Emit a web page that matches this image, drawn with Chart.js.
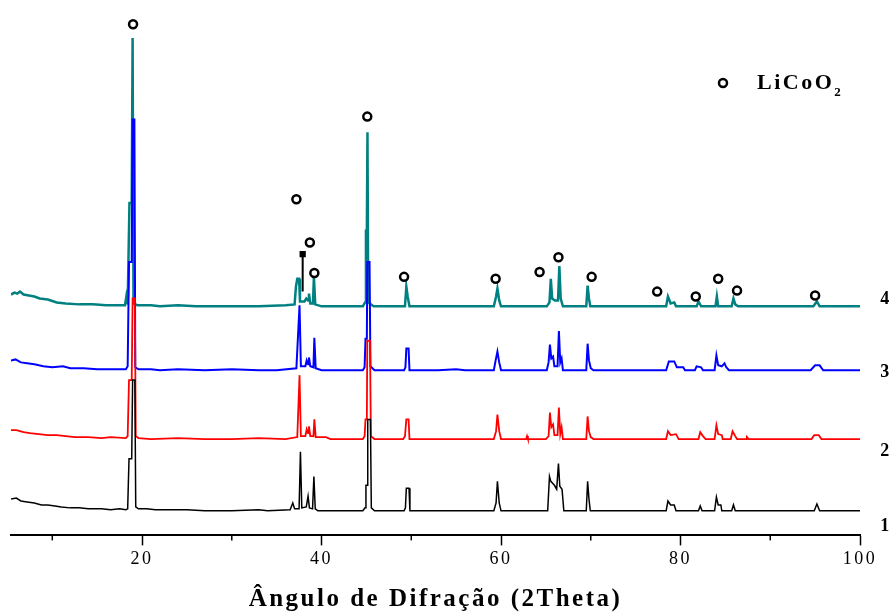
<!DOCTYPE html>
<html>
<head>
<meta charset="utf-8">
<script src="https://cdn.jsdelivr.net/npm/chart.js@4.4.1/dist/chart.umd.min.js"></script>
<style>
  body { margin: 0; background: #fff; }
</style>
</head>
<body>
<canvas id="xrd" width="896" height="612"></canvas>
<script>
// [2theta, intensity] pairs (arbitrary units)
const amostra1 = [
  [5.4,12],[6.0,13],[6.5,10],[7.2,9],[8.0,8],[8.8,6],[9.5,6],[10.3,5],[11.0,4],[12.0,3],[13.0,3],[14.0,2],[15.5,2],[16.5,1],[17.5,2],[18.2,1],[18.4,2],
  [18.55,53],[18.85,53],[18.95,133],[19.2,133],[19.3,4],[19.6,2],[20.5,2],[21.5,1],[23,1],[25,1],[27,0],[30,0],[33,1],[34,0],[36.5,1],[36.8,8],[37.0,2],[37.5,2],[37.65,60],[37.8,3],[38.3,4],[38.5,15],[38.65,3],[39.0,2],[39.15,35],[39.3,2],[39.6,0],
  [44.6,0],[44.85,3],[44.95,26],[45.1,26],[45.15,93],[45.45,93],[45.55,3],[45.9,0],
  [49.2,0],[49.35,3],[49.45,23],[49.75,23],[49.85,0],
  [53,0],[56,0],[59.2,0],[59.45,8],[59.6,30],[59.8,8],[60.0,0],
  [65.2,0],[65.4,35],[65.55,30],[65.75,28],[65.95,26],[66.2,22],[66.4,48],[66.55,25],[66.8,22],[67.0,0],
  [69.5,0],[69.65,30],[69.8,12],[69.95,0],
  [78.4,0],[78.6,10],[78.9,6],[79.3,6],[79.5,0],[82.0,0],[82.2,5],[82.4,0],[83.8,0],[84.0,14],[84.2,6],[84.5,6],[84.6,0],[85.7,0],[85.9,6],[86.1,0],[94.9,0],[95.2,7],[95.5,0],[100,0]
];
const amostra2 = [
  [5.4,9],[6,9],[6.8,7],[7.5,6],[8.5,5],[9.5,4],[10.5,4],[11.5,3],[12.5,2],[14,2],[15.5,1],[16.5,2],[18.2,1],[18.4,3],
  [18.55,60],[18.85,60],[18.95,143],[19.2,143],[19.3,3],[19.6,1],[21,0],[24,1],[27,0],[30,0],[33,1],[36,0],[37.3,2],[37.55,65],[37.7,3],[38.2,3],[38.35,10],[38.5,6],[38.6,13],[38.75,3],[39.1,3],[39.2,20],[39.35,2],[40.5,2],[41,0],
  [44.6,0],[44.8,3],[44.9,20],[45.05,20],[45.1,100],[45.4,100],[45.5,3],[45.9,0],
  [49.1,0],[49.3,3],[49.45,20],[49.7,20],[49.8,0],
  [55,0],[59.2,0],[59.45,8],[59.6,25],[59.8,8],[60.0,0],[62.8,0],[62.9,3],[63.0,0],
  [65.0,0],[65.3,3],[65.45,27],[65.6,12],[65.8,15],[65.95,4],[66.3,4],[66.45,32],[66.6,5],[66.75,12],[66.9,0],
  [69.5,0],[69.65,23],[69.8,8],[70.0,2],[70.3,0],
  [78.4,0],[78.6,8],[78.9,4],[79.5,5],[79.8,0],[82.0,0],[82.2,7],[82.5,3],[82.8,0],[83.8,0],[84.0,14],[84.2,5],[84.6,4],[84.7,0],[85.6,0],[85.8,8],[86.1,3],[86.3,0],[87.3,0],[87.4,2],[87.6,0],[94.6,0],[94.9,4],[95.4,4],[95.7,0],[100,0]
];
const amostra3 = [
  [5.4,10],[5.9,11],[6.5,8],[7.2,7],[8,6],[9,4],[10,3],[11.2,4],[12,2],[13.5,2],[15,1],[16.5,1],[18.2,1],[18.4,4],
  [18.55,110],[18.85,110],[18.95,255],[19.15,255],[19.25,3],[19.6,1],[21,1],[22,0],[24,1],[27,0],[30,1],[33,0],[35,0],[37.2,2],[37.55,66],[37.7,4],[38.2,4],[38.35,10],[38.5,6],[38.6,13],[38.75,4],[39.1,3],[39.2,33],[39.35,2],[40,0],
  [44.6,0],[44.8,3],[44.9,32],[45.05,32],[45.1,110],[45.35,110],[45.45,4],[45.9,0],
  [49.2,0],[49.35,3],[49.45,22],[49.7,22],[49.8,0],
  [53,0],[55,1],[56,0],[59.2,0],[59.4,10],[59.6,19],[59.8,8],[60.0,0],
  [65.1,0],[65.3,8],[65.45,26],[65.6,12],[65.8,14],[65.95,4],[66.3,4],[66.45,40],[66.6,8],[66.75,12],[66.9,0],
  [69.5,0],[69.65,27],[69.8,10],[70.0,2],[70.3,0],
  [78.4,0],[78.7,9],[79.3,9],[79.6,3],[80.3,3],[80.5,0],[81.6,0],[81.8,4],[82.3,3],[82.5,0],[83.8,0],[84.0,15],[84.2,5],[84.6,4],[84.9,7],[85.1,3],[85.4,0],[94.5,0],[95.0,5],[95.5,5],[95.9,0],[100,0]
];
const amostra4 = [
  [5.4,12],[5.8,14],[6.1,13],[6.4,15],[6.8,12],[7.4,11],[8,10],[8.6,8],[9.5,7],[10.5,4],[11.5,3],[13,2],[14.5,2],[16,1],[17.5,1],[18.1,1],[18.25,10],[18.4,2],
  [18.6,105],[18.85,105],[18.95,273],[19.05,3],[19.5,1],[21,1],[22,0],[24,1],[26,0],[28,0],[30,0],[33,0],[36,1],[37.0,2],[37.15,20],[37.3,28],[37.5,28],[37.6,5],[38.1,5],[38.3,8],[38.5,6],[38.6,13],[38.75,3],[39.05,3],[39.15,30],[39.3,2],[40,0],
  [44.6,0],[44.85,4],[44.95,77],[45.05,77],[45.12,177],[45.2,4],[45.8,0],
  [49.3,0],[49.45,20],[49.6,10],[49.8,0],
  [55,0],[59.2,0],[59.45,10],[59.6,18],[59.8,6],[60.0,0],
  [65.1,0],[65.4,4],[65.55,28],[65.7,8],[66.0,6],[66.35,6],[66.5,41],[66.65,8],[66.9,0],
  [69.5,0],[69.65,21],[69.8,8],[69.95,0],
  [78.4,0],[78.6,10],[78.9,3],[79.3,4],[79.5,0],[81.8,0],[82.0,5],[82.3,0],[83.9,0],[84.05,10],[84.2,0],[85.7,0],[85.9,8],[86.1,2],[86.4,0],[94.8,0],[95.2,5],[95.5,0],[100,0]
];

const series = [amostra1, amostra2, amostra3, amostra4];
const seriesNames = ['1', '2', '3', '4'];
const seriesOffsets = [25, 98, 168, 233];   // vertical stacking of the patterns
const seriesColors = ['#000000', '#ff0000', '#0000ff', '#008080'];
const seriesWidths = [1.5, 1.8, 2, 2.5];

// LiCoO2 reflections marked with "o"
const marcaAngulo = [19.0, 37.2, 38.7, 39.2, 45.1, 49.2, 59.4, 64.3, 66.4, 70.1, 77.4, 81.7, 84.2, 86.3, 95.0];
const marcaAltura = [520, 342, 298, 267, 426, 263, 261, 268, 283, 263, 248, 243, 261, 249, 244];
const setaAngulo = [37.9, 37.9];
const setaAltura = [248, 286];

const majorTicks = [20, 40, 60, 80, 100];
const minorTicks = [10, 30, 50, 70, 90];

// where the sample numbers sit on the right (y in chart units)
const labelY = [9, 86, 166, 240];

const serif = '"Liberation Serif", "Times New Roman", serif';

const datasets = [];
datasets.push({
  label: 'LiCoO2',
  data: marcaAngulo.map((a, i) => ({ x: a, y: marcaAltura[i] })),
  showLine: false,
  pointStyle: 'circle',
  pointRadius: 4,
  pointBorderWidth: 2.5,
  pointBorderColor: '#000',
  pointBackgroundColor: '#fff',
  clip: false
});
datasets.push({
  label: 'seta',
  data: setaAngulo.map((a, i) => ({ x: a, y: setaAltura[i] })),
  borderColor: '#000',
  borderWidth: 2,
  pointStyle: 'rect',
  pointRadius: ctx => ctx.dataIndex === 1 ? 3 : 0,
  pointBackgroundColor: '#000',
  pointBorderColor: '#000'
});
series.forEach((s, i) => {
  datasets.push({
    label: seriesNames[i],
    data: s.map(p => ({ x: p[0], y: p[1] + seriesOffsets[i] })),
    borderColor: seriesColors[i],
    borderWidth: seriesWidths[i],
    pointRadius: 0,
    tension: 0,
    fill: false
  });
});

const overlay = {
  id: 'overlay',
  beforeDraw(chart) {
    chart.ctx.letterSpacing = '2.5px';
  },
  afterDraw(chart) {
    const { ctx, chartArea, scales: { x, y } } = chart;
    ctx.save();
    // minor ticks
    ctx.strokeStyle = '#000';
    ctx.lineWidth = 1.5;
    minorTicks.forEach(v => {
      const px = x.getPixelForValue(v);
      ctx.beginPath();
      ctx.moveTo(px, chartArea.bottom);
      ctx.lineTo(px, chartArea.bottom + 5);
      ctx.stroke();
    });
    // sample numbers
    ctx.fillStyle = '#000';
    ctx.font = 'bold 18px ' + serif;
    ctx.textAlign = 'center';
    ctx.textBaseline = 'middle';
    seriesNames.forEach((n, i) => {
      ctx.fillText(n, chartArea.right + 26, y.getPixelForValue(labelY[i]));
    });
    // legend  o LiCoO2
    ctx.beginPath();
    ctx.lineWidth = 2.5;
    ctx.arc(723, 83, 4, 0, Math.PI * 2);
    ctx.fillStyle = '#fff';
    ctx.fill();
    ctx.stroke();
    ctx.fillStyle = '#000';
    ctx.textAlign = 'left';
    ctx.font = 'bold 22px ' + serif;
    ctx.fillText('LiCoO', 757, 83);
    const w = ctx.measureText('LiCoO').width;
    ctx.font = 'bold 13px ' + serif;
    ctx.fillText('2', 757 + w, 93);
    ctx.restore();
    ctx.letterSpacing = '0px';
  }
};

new Chart(document.getElementById('xrd').getContext('2d'), {
  type: 'line',
  data: { datasets },
  options: {
    responsive: false,
    animation: false,
    layout: { padding: { left: 11, right: 36, top: 0, bottom: 0 } },
    plugins: {
      legend: { display: false },
      tooltip: { enabled: false }
    },
    scales: {
      x: {
        type: 'linear',
        min: 5.4,
        max: 100,
        border: { display: true, color: '#000', width: 2 },
        grid: { display: true, drawOnChartArea: false, drawTicks: true, tickLength: 10, tickColor: '#000', tickWidth: 1.5 },
        afterBuildTicks: scale => { scale.ticks = majorTicks.map(v => ({ value: v })); },
        ticks: {
          autoSkip: false,
          maxRotation: 0,
          padding: 3,
          color: '#000',
          font: { family: serif, size: 18 },
          callback: v => String(v)
        },
        title: {
          display: true,
          text: 'Ângulo de Difração (2Theta)',
          color: '#000',
          font: { family: serif, size: 25, weight: 'bold', lineHeight: 1 },
          padding: { top: 14, bottom: 0 }
        }
      },
      y: {
        display: false,
        min: 0,
        max: 538
      }
    }
  },
  plugins: [overlay]
});
</script>
</body>
</html>
